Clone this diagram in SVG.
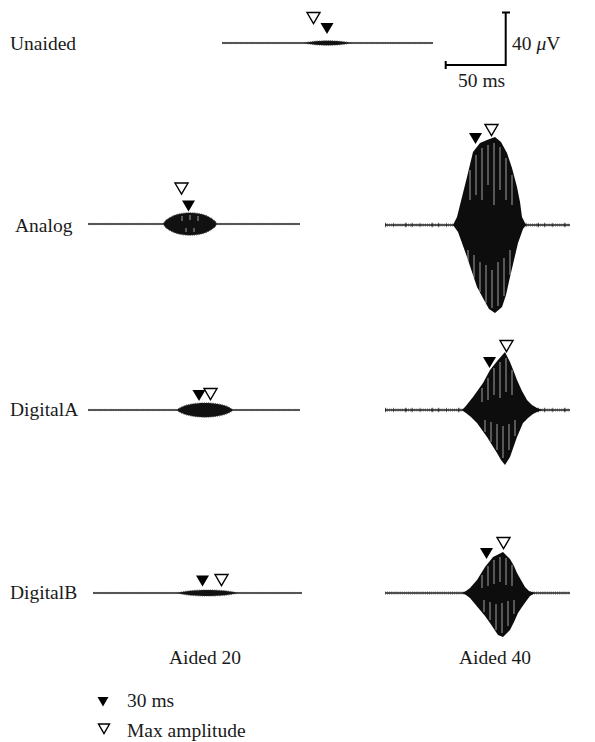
<svg xmlns="http://www.w3.org/2000/svg" width="595" height="742" viewBox="0 0 595 742">
<style>
text{font-family:"Liberation Serif","DejaVu Serif",serif;font-size:19.5px;fill:#1a1a1a}
.base{stroke:#1e1e1e;stroke-width:1.6;fill:none}
.fuzz{stroke:#333;stroke-width:3.6;fill:none;stroke-dasharray:0.8 1.3;opacity:0.55}
.blob{stroke:#111;stroke-width:4.6;fill:none;stroke-dasharray:1.2 7 0.8 11 1.5 5;opacity:0.6}
.fuzz2{stroke:#555;stroke-width:2.4;fill:none;stroke-dasharray:0.7 1.6;opacity:0.5}
.env{fill:#0d0d0d}
.senv{fill:#111;stroke:#444;stroke-width:1.2;stroke-dasharray:0.7 1.1}
.streak{stroke:#d0d0d0;stroke-width:0.9;opacity:0.85}
.tf{fill:#000}
.to{fill:#fff;stroke:#000;stroke-width:1.4;stroke-linejoin:miter}
.bar{stroke:#000;stroke-width:2;fill:none}
</style>
<defs>
<path id="tri" d="M-6.5,0 L6.5,0 L0,11 Z"/>
<path id="tris" d="M-5.5,0 L5.5,0 L0,9.5 Z"/>
</defs>

<g id="unaided">
<text x="10" y="50">Unaided</text>
<line class="base" x1="222" y1="43" x2="433" y2="43"/>
<line class="fuzz2" x1="222" y1="43" x2="433" y2="43"/>
<path class="senv" d="M305,43 C316,40 339,40 350,43 C339,46 316,46 305,43 Z"/>
<use href="#tri" class="to" x="313.5" y="12.5"/>
<use href="#tri" class="tf" x="327" y="23"/>
</g>

<g id="scalebar">
<path class="bar" d="M502,12.5 H510 M505.7,12.5 V65 H445.7 M445.7,61 V69"/>
<text x="512" y="50">40 <tspan font-style="italic">μ</tspan>V</text>
<text x="458" y="87">50 ms</text>
</g>

<g id="analog">
<text x="15" y="232">Analog</text>
<line class="base" x1="88" y1="224" x2="300" y2="224"/>
<line class="fuzz2" x1="88" y1="224" x2="300" y2="224"/>
<path class="senv" d="M163,224 C172,209 208,209 217,224 C208,239 172,239 163,224 Z"/>
<g class="streak">
<line x1="182" y1="216" x2="182" y2="221"/><line x1="190" y1="215" x2="190" y2="220"/><line x1="198" y1="216" x2="198" y2="221"/><line x1="186" y1="228" x2="186" y2="232"/><line x1="194" y1="228" x2="194" y2="232"/>
</g>
<use href="#tri" class="to" x="181.5" y="183"/>
<use href="#tri" class="tf" x="188.5" y="200.5"/>

<line class="base" x1="385" y1="225" x2="570" y2="225"/>
<line class="fuzz" x1="385" y1="225" x2="570" y2="225"/>
<line class="blob" x1="385" y1="225" x2="570" y2="225"/>
<path class="env" d="M453,225 L457,217 L462,197 L467,177 L473,152 L480,143 L487,140 L495,137 L501,142 L507,153 L512,168 L517,187 L520,202 L522,217 L526,225 L523,229 L518,243 L514,260 L510,277 L506,295 L502,307 L495,313 L489,309 L484,300 L477,287 L472,272 L467,257 L462,243 L458,232 Z"/>
<g class="streak">
<line x1="470" y1="170" x2="470" y2="200"/><line x1="476" y1="155" x2="476" y2="195"/><line x1="482" y1="148" x2="482" y2="200"/><line x1="488" y1="145" x2="488" y2="185"/><line x1="494" y1="143" x2="494" y2="205"/><line x1="500" y1="147" x2="500" y2="190"/><line x1="506" y1="158" x2="506" y2="200"/><line x1="512" y1="175" x2="512" y2="205"/>
<line x1="468" y1="250" x2="468" y2="262"/><line x1="474" y1="255" x2="474" y2="278"/><line x1="480" y1="262" x2="480" y2="292"/><line x1="486" y1="265" x2="486" y2="303"/><line x1="492" y1="270" x2="492" y2="308"/><line x1="498" y1="262" x2="498" y2="306"/><line x1="504" y1="258" x2="504" y2="296"/><line x1="510" y1="250" x2="510" y2="275"/>
</g>
<use href="#tri" class="tf" x="475.5" y="133"/>
<use href="#tri" class="to" x="491.5" y="124.5"/>
</g>

<g id="digitalA">
<text x="10" y="416">DigitalA</text>
<line class="base" x1="88" y1="410" x2="300" y2="410"/>
<line class="fuzz2" x1="88" y1="410" x2="300" y2="410"/>
<path class="senv" d="M177,410 C186,400.5 224,400.5 233,410 C224,419.5 186,419.5 177,410 Z"/>
<use href="#tri" class="tf" x="199" y="390"/>
<use href="#tri" class="to" x="210.5" y="388.5"/>

<line class="base" x1="385" y1="410" x2="570" y2="410"/>
<line class="fuzz" x1="385" y1="410" x2="570" y2="410"/>
<line class="blob" x1="385" y1="410" x2="570" y2="410"/>
<path class="env" d="M462,410 L465,407 L469,402 L473,397 L478,390 L483,383 L490,370 L498,360 L505,352 L510,362 L514,372 L517,380 L522,391 L527,400 L532,405 L537,408 L542,410 L537,412 L533,414 L528,418 L523,423 L517,437 L510,457 L505,465 L501,460 L497,453 L492,445 L487,437 L482,430 L477,423 L471,417 L466,413 Z"/>
<g class="streak">
<line x1="482" y1="388" x2="482" y2="402"/><line x1="488" y1="378" x2="488" y2="400"/><line x1="494" y1="368" x2="494" y2="395"/><line x1="500" y1="362" x2="500" y2="398"/><line x1="506" y1="358" x2="506" y2="392"/><line x1="512" y1="370" x2="512" y2="395"/>
<line x1="485" y1="420" x2="485" y2="432"/><line x1="491" y1="422" x2="491" y2="442"/><line x1="497" y1="424" x2="497" y2="450"/><line x1="503" y1="426" x2="503" y2="458"/><line x1="509" y1="424" x2="509" y2="450"/><line x1="515" y1="420" x2="515" y2="436"/>
</g>
<use href="#tri" class="tf" x="489.5" y="357"/>
<use href="#tri" class="to" x="506.5" y="340.5"/>
</g>

<g id="digitalB">
<text x="10" y="599">DigitalB</text>
<line class="base" x1="93" y1="593" x2="302" y2="593"/>
<line class="fuzz2" x1="93" y1="593" x2="302" y2="593"/>
<path class="senv" d="M178,593 C190,589 225,589 237,593 C225,597 190,597 178,593 Z"/>
<use href="#tri" class="tf" x="202.5" y="575.5"/>
<use href="#tri" class="to" x="221.5" y="574.5"/>

<line class="base" x1="385" y1="593" x2="570" y2="593"/>
<line class="fuzz" x1="385" y1="593" x2="570" y2="593"/>
<path class="env" d="M462,593 L466,591 L470,588 L477,580 L485,567 L493,557 L503,552 L510,559 L514,566 L517,573 L521,580 L525,587 L529,591 L535,593 L530,596 L527,600 L522,607 L518,613 L514,622 L510,630 L503,637 L498,635 L494,629 L490,623 L485,616 L480,610 L475,604 L470,598 L466,595 Z"/>
<g class="streak">
<line x1="482" y1="575" x2="482" y2="588"/><line x1="488" y1="566" x2="488" y2="586"/><line x1="494" y1="560" x2="494" y2="584"/><line x1="500" y1="557" x2="500" y2="582"/><line x1="506" y1="558" x2="506" y2="585"/><line x1="512" y1="565" x2="512" y2="586"/>
<line x1="484" y1="600" x2="484" y2="612"/><line x1="490" y1="602" x2="490" y2="620"/><line x1="496" y1="604" x2="496" y2="630"/><line x1="502" y1="603" x2="502" y2="633"/><line x1="508" y1="601" x2="508" y2="626"/><line x1="514" y1="600" x2="514" y2="614"/>
</g>
<use href="#tri" class="tf" x="486.5" y="548"/>
<use href="#tri" class="to" x="503.5" y="537.5"/>
</g>

<g id="columns">
<text x="205" y="664" text-anchor="middle">Aided 20</text>
<text x="495" y="664" text-anchor="middle">Aided 40</text>
</g>

<g id="legend">
<use href="#tris" class="tf" x="103" y="697"/>
<text x="127" y="707">30 ms</text>
<use href="#tris" class="to" x="104" y="724"/>
<text x="127" y="737">Max amplitude</text>
</g>
</svg>
